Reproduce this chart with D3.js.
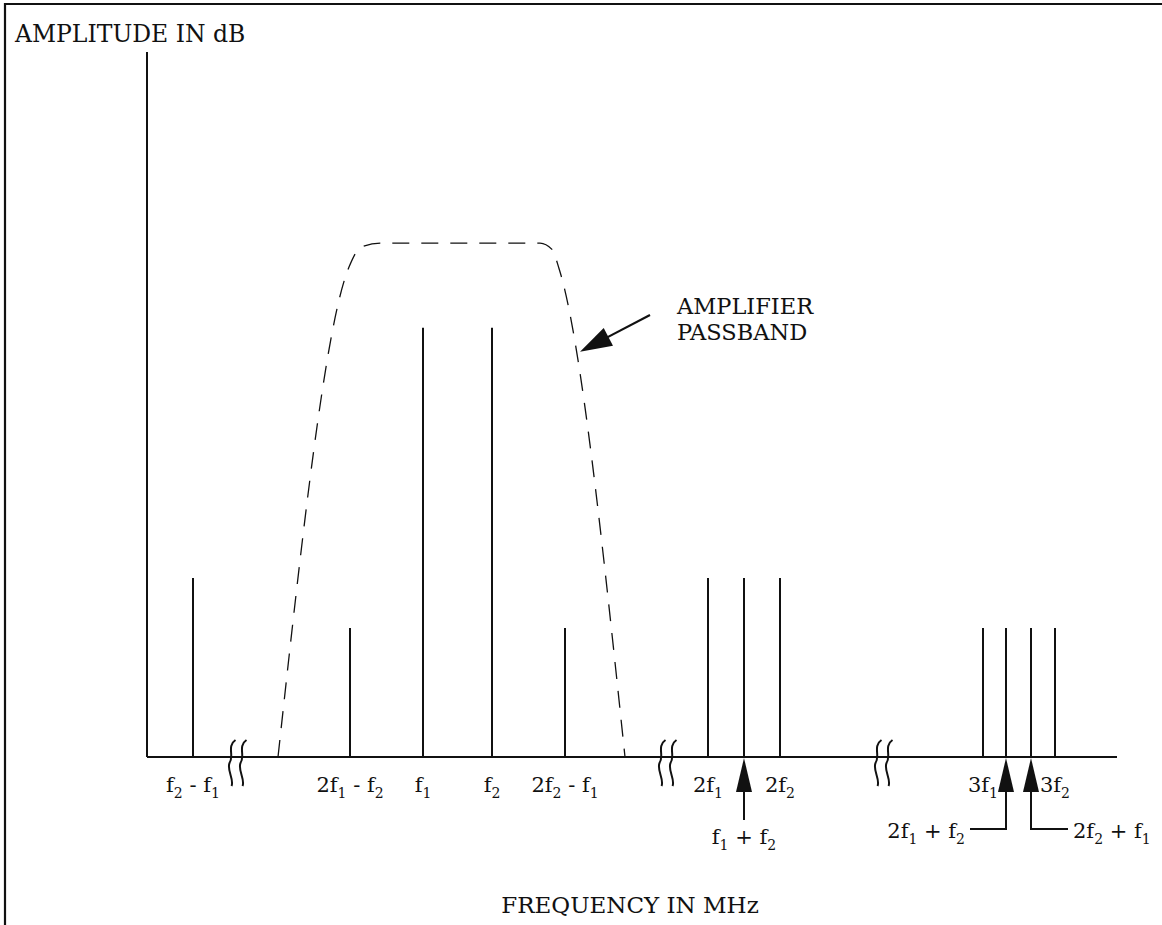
<!DOCTYPE html>
<html><head><meta charset="utf-8">
<script src="https://cdn.jsdelivr.net/npm/d3@7"></script>
<style>
body{margin:0;background:#fff}
text{font-family:"DejaVu Serif",serif;fill:#111}
</style>
</head><body>
<svg id="c" width="1162" height="925"></svg>
<script>
// ---- data (schematic frequency units / relative amplitude units) ----
const lineNames      = ["f2-f1","2f1-f2","f1","f2","2f2-f1","2f1","f1+f2","2f2","3f1","2f1+f2","2f2+f1","3f2"];
const linePositions  = [4.6, 20.3, 27.6, 34.5, 41.8, 56.1, 59.7, 63.3, 83.6, 85.9, 88.4, 90.8];
const lineAmplitudes = [25.4, 18.3, 60.9, 60.9, 18.3, 25.4, 25.4, 25.4, 18.3, 18.3, 18.3, 18.3];
const tickLabels     = ["f_2 - f_1","2f_1 - f_2","f_1","f_2","2f_2 - f_1","2f_1","","2f_2","3f_1","","","3f_2"];
const arrowLines     = ["f1+f2","2f1+f2","2f2+f1"];
const arrowLabels    = ["f_1 + f_2","2f_1 + f_2","2f_2 + f_1"];
const arrowSides     = ["below","left","right"];
const breakPositions = [9.0, 52.0, 73.6];
const passbandX = [13.1, 20.2, 21.4, 23.4, 39.3, 40.5, 41.2, 47.8];
const passbandY = [0, 69.5, 72.3, 72.9, 72.9, 72.0, 69.3, 0];
const xDomain = [0, 97];
const yDomain = [0, 100];
const yAxisTitle = "AMPLITUDE IN dB";
const xAxisTitle = "FREQUENCY IN MHz";
const noteLines = ["AMPLIFIER","PASSBAND"];
const noteArrowFrom = [50.3, 62.7];
const noteArrowTo = [43.3, 57.5];

// ---- layout ----
const svg = d3.select("#c");
const x = d3.scaleLinear().domain(xDomain).range([147, 1117]);
const y = d3.scaleLinear().domain(yDomain).range([757, 52]);
const ink = "#111";

// frame (top and left border)
svg.append("path").attr("d","M5,925 L5,4 L1162,4").attr("fill","none").attr("stroke",ink).attr("stroke-width",2.2);

function richText(sel, str, subSize){
  const parts = str.split(/(_\d)/).filter(s=>s.length);
  let shifted = false;
  parts.forEach(p=>{
    if(p[0]==="_"){
      sel.append("tspan").attr("font-size",subSize).attr("dy",shifted?0:6).text(p.slice(1));
      shifted = true;
    } else {
      const t = sel.append("tspan").text(p);
      if(shifted){ t.attr("dy",-6); shifted = false; }
    }
  });
}

// axes
svg.append("line").attr("x1",x(0)).attr("x2",x(0)).attr("y1",y(0)).attr("y2",y(100))
  .attr("stroke",ink).attr("stroke-width",2);
svg.append("line").attr("x1",x(0)).attr("x2",x(97)).attr("y1",y(0)).attr("y2",y(0))
  .attr("stroke",ink).attr("stroke-width",2);

// axis titles
svg.append("text").attr("x",15).attr("y",42).attr("font-size",23.5).text(yAxisTitle);
svg.append("text").attr("x",(x(0)+x(97))/2 - 2).attr("y",913).attr("text-anchor","middle").attr("font-size",23).text(xAxisTitle);

// break marks
breakPositions.forEach(b=>{
  [-5.5, 5.5].forEach(off=>{
    const cx = x(b)+off, t = y(0)-17;
    svg.append("path")
      .attr("d",`M${cx+4},${t} C${cx-5},${t+6} ${cx+3},${t+16} ${cx-2},${t+23} C${cx-5},${t+30} ${cx+3},${t+40} ${cx},${t+46}`)
      .attr("fill","none").attr("stroke",ink).attr("stroke-width",2);
  });
});

// passband
const pb = d3.range(passbandX.length).map(i=>[passbandX[i],passbandY[i]]);
svg.append("path").datum(pb)
  .attr("d", d3.line().x(d=>x(d[0])).y(d=>y(d[1])).curve(d3.curveMonotoneX))
  .attr("fill","none").attr("stroke",ink).attr("stroke-width",1.3).attr("stroke-dasharray","17,12");

// spectral lines
svg.selectAll(".spec").data(lineNames).enter().append("line")
  .attr("x1",(d,i)=>x(linePositions[i])).attr("x2",(d,i)=>x(linePositions[i]))
  .attr("y1",y(0)).attr("y2",(d,i)=>y(lineAmplitudes[i]))
  .attr("stroke",ink).attr("stroke-width",2);

// tick labels
tickLabels.forEach((lab,i)=>{
  if(!lab) return;
  const t = svg.append("text").attr("x",x(linePositions[i])).attr("y",792)
    .attr("text-anchor","middle").attr("font-size",21);
  richText(t, lab, 14);
});

// arrows under axis
arrowLines.forEach((name,k)=>{
  const i = lineNames.indexOf(name);
  const px = x(linePositions[i]), tip = y(0)+1;
  svg.append("path").attr("d",`M${px},${tip} L${px-8},${tip+34} L${px+8},${tip+34} Z`).attr("fill",ink);
  const side = arrowSides[k];
  if(side==="below"){
    svg.append("line").attr("x1",px).attr("x2",px).attr("y1",tip+30).attr("y2",820).attr("stroke",ink).attr("stroke-width",2);
    const t = svg.append("text").attr("x",px).attr("y",844).attr("text-anchor","middle").attr("font-size",21);
    richText(t, arrowLabels[k], 14);
  } else {
    const hx = side==="left" ? px-36 : px+37;
    svg.append("path").attr("d",`M${px},${tip+30} L${px},829 L${hx},829`).attr("fill","none").attr("stroke",ink).attr("stroke-width",2);
    const t = svg.append("text").attr("x", side==="left" ? hx-5 : hx+5).attr("y",838)
      .attr("text-anchor", side==="left" ? "end" : "start").attr("font-size",21);
    richText(t, arrowLabels[k], 14);
  }
});

// passband annotation arrow
(function(){
  const x1 = x(noteArrowFrom[0]), y1 = y(noteArrowFrom[1]);
  const x2 = x(noteArrowTo[0]), y2 = y(noteArrowTo[1]);
  const dx = x2-x1, dy = y2-y1, L = Math.hypot(dx,dy), ux = dx/L, uy = dy/L;
  const hl = 32, hw = 10;
  const bx = x2-ux*hl, by = y2-uy*hl;
  svg.append("line").attr("x1",x1).attr("y1",y1).attr("x2",bx+ux*4).attr("y2",by+uy*4).attr("stroke",ink).attr("stroke-width",2.2);
  svg.append("path").attr("d",`M${x2},${y2} L${bx-uy*hw},${by+ux*hw} L${bx+uy*hw},${by-ux*hw} Z`).attr("fill",ink);
  noteLines.forEach((s,i)=>{
    svg.append("text").attr("x",x(53.0)).attr("y",y(63.0)+1+i*26).attr("font-size",22.5).text(s);
  });
})();
</script>
</body></html>
